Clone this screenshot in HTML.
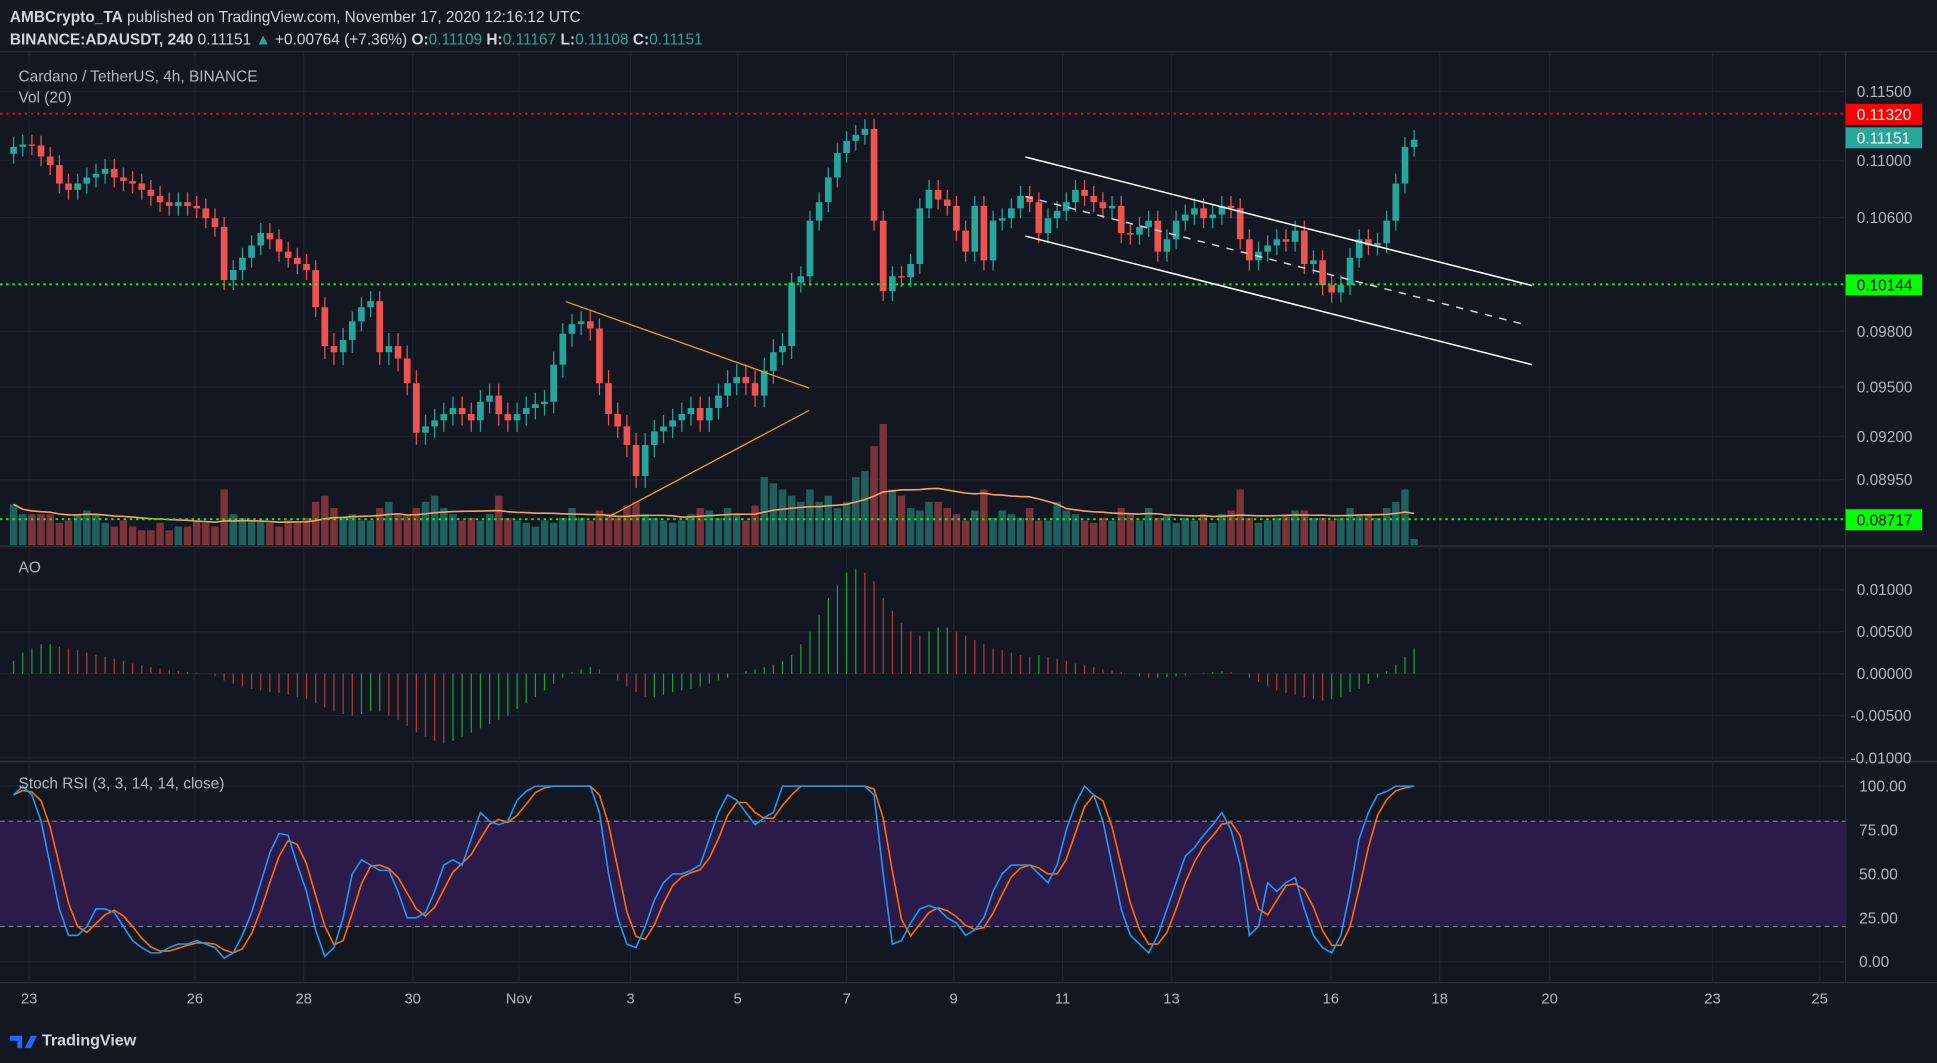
<!DOCTYPE html>
<html><head><meta charset="utf-8">
<style>
html,body{margin:0;padding:0;background:#131722;overflow:hidden}
svg{display:block}
text{font-family:"Liberation Sans",sans-serif}
</style></head>
<body>
<svg id="chart" width="1937" height="1063" viewBox="0 0 1568 860" preserveAspectRatio="none" xmlns="http://www.w3.org/2000/svg">
<rect x="0" y="0" width="1568" height="860" fill="#131722"/>
<g id="grid"></g>
<g id="vol"></g>
<g id="candles"></g>
<g id="ao"></g>
<g id="stoch"></g>
<g id="overlay"></g>
<text x="8" y="18" font-size="12.5" fill="#d1d4dc"><tspan font-weight="bold">AMBCrypto_TA</tspan> published on TradingView.com, November 17, 2020 12:16:12 UTC</text>
<text x="8" y="36" font-size="12.5" fill="#d1d4dc"><tspan font-weight="bold">BINANCE:ADAUSDT, 240</tspan> 0.11151 <tspan fill="#26a69a">▲</tspan> +0.00764 (+7.36%) <tspan font-weight="bold">O:</tspan><tspan fill="#26a69a">0.11109</tspan> <tspan font-weight="bold">H:</tspan><tspan fill="#26a69a">0.11167</tspan> <tspan font-weight="bold">L:</tspan><tspan fill="#26a69a">0.11108</tspan> <tspan font-weight="bold">C:</tspan><tspan fill="#26a69a">0.11151</tspan></text>
<text x="15" y="66" font-size="12.5" fill="#b2b5be">Cardano / TetherUS, 4h, BINANCE</text>
<text x="15" y="83" font-size="12.5" fill="#b2b5be">Vol (20)</text>
<text x="15" y="463" font-size="12.5" fill="#b2b5be">AO</text>
<text x="15" y="638" font-size="12.5" fill="#b2b5be">Stoch RSI (3, 3, 14, 14, close)</text>
<g>
<path d="M8 838 h10 v10 h-4 v-6 h-6z M20 848 l5 -10 h5 l-5 10z" fill="#2962ff"/>
<text x="34" y="846" font-size="13" fill="#d1d4dc" font-weight="bold">TradingView</text>
</g>
</svg>
<script>
const closes=[0.1110,0.11117,0.1111,0.1103,0.10969,0.10839,0.10795,0.10839,0.10882,0.10908,
0.10943,0.10882,0.10856,0.10839,0.10795,0.10752,0.10708,0.10682,0.10708,0.10682,
0.10665,0.10595,0.10534,0.1016,0.1023,0.10317,0.10404,0.10491,0.10447,0.1036,
0.10317,0.10273,0.1023,0.09969,0.0972,0.09687,0.09753,0.0987,0.09969,0.10012,
0.09687,0.0972,0.09653,0.0952,0.09222,0.0926,0.09297,0.09335,0.09372,0.09335,
0.09297,0.0941,0.09447,0.09335,0.09297,0.09335,0.09372,0.09395,0.0941,0.0962,
0.09787,0.0985,0.0987,0.0982,0.0952,0.09335,0.0926,0.0915,0.08971,0.0915,
0.0923,0.0926,0.09297,0.09335,0.09372,0.09297,0.09372,0.09447,0.0952,0.09553,
0.0952,0.09447,0.09587,0.09687,0.0972,0.10143,0.10187,0.10578,0.10708,0.10882,
0.11056,0.11143,0.11187,0.1123,0.10578,0.10082,0.10187,0.1018,0.10273,0.10665,
0.10795,0.10726,0.10682,0.10508,0.1036,0.10682,0.10299,0.10578,0.10595,0.10665,
0.10752,0.10708,0.10491,0.10595,0.10647,0.10708,0.10795,0.10752,0.10708,0.10665,
0.10682,0.10491,0.1048,0.10534,0.10578,0.1036,0.10447,0.10578,0.10621,0.10665,
0.10595,0.10621,0.10682,0.10665,0.10447,0.10299,0.1036,0.10404,0.10447,0.1043,
0.10508,0.10273,0.10299,0.10125,0.10073,0.10125,0.10317,0.10447,0.10404,0.10421,
0.10578,0.10839,0.1110,0.11151];
const volumes=[33,25,25,25,25,18,20,25,28,25,18,15,20,15,12,12,18,12,15,15,20,18,15,
45,25,22,20,20,18,15,20,18,22,35,40,30,22,25,20,20,30,35,25,25,30,35,40,30,25,20,22,20,25,40,
22,20,18,15,20,18,22,30,22,20,28,25,22,32,35,25,22,20,18,20,25,30,28,22,30,25,20,32,55,50,45,
40,35,45,35,40,30,35,55,60,80,98,45,40,30,28,35,35,30,25,20,28,45,22,28,25,22,30,20,20,35,28,
25,20,18,22,20,30,25,20,30,22,25,18,22,20,25,18,25,28,45,22,18,20,22,25,28,28,22,22,20,22,30,
25,25,22,30,35,45,5];
const aoValues=[1.5,2.5,3,3.5,3.5,3.2,3,2.8,2.5,2.2,2,1.8,1.5,1.2,1,0.8,0.6,0.4,0.3,0.2,
0.1,0,-0.3,-0.8,-1.2,-1.5,-1.8,-2,-2.2,-2.3,-2.5,-2.8,-3,-3.5,-4,-4.5,-4.8,-5,-4.8,-4.5,
-4.5,-5,-5.5,-6.2,-7,-7.5,-8,-8.3,-8,-7.5,-7,-6.5,-6,-5.5,-5,-4.2,-3.5,-2.8,-2,-1.2,
-0.5,0.2,0.5,0.8,0.5,0,-0.8,-1.5,-2.2,-2.8,-2.8,-2.5,-2.2,-2,-1.8,-1.5,-1.2,-0.8,-0.5,0,
0.3,0.5,0.8,1,1.5,2.2,3.5,5,7,9,10.5,12,12.5,12,11,9,7.5,6,5,4.5,
5,5.5,5.5,5,4.5,4,3.5,3,2.8,2.5,2.2,2,2.2,2,1.8,1.5,1.2,1,0.8,0.5,
0.4,0.2,0,-0.3,-0.5,-0.5,-0.4,-0.3,-0.2,0,0.1,0.2,0.3,0.2,0,-0.5,-1,-1.5,-2,-2.3,
-2.5,-2.8,-3,-3.2,-3,-2.8,-2.2,-1.8,-1.2,-0.5,0.3,1,2,3];
const stochK=[95,100,95,80,55,30,15,15,20,30,30,28,20,12,8,5,5,8,10,10,
12,10,8,2,5,15,28,45,62,73,72,55,40,18,3,8,25,50,58,55,
52,52,40,25,25,28,40,55,58,55,70,85,80,78,80,92,97,100,100,100,
100,100,100,100,85,50,25,10,8,20,35,45,50,50,52,55,70,85,95,92,
85,78,82,85,100,100,100,100,100,100,100,100,100,100,95,50,10,12,22,30,
32,30,25,22,15,18,25,40,50,55,55,55,50,45,55,75,90,100,95,80,
55,30,15,10,5,15,30,45,60,65,72,78,85,75,55,15,20,45,40,45,
48,30,15,8,5,15,40,70,85,95,97,100,100,100];
const priceTicks=[0.115,0.11,0.106,0.098,0.095,0.092,0.0895];
const priceTickLabels=["0.11500","0.11000","0.10600","0.09800","0.09500","0.09200","0.08950"];
const aoTicks=[10,5,0,-5,-10];
const aoTickLabels=["0.01000","0.00500","0.00000","-0.00500","-0.01000"];
const stochTicks=[100,75,50,25,0];
const stochTickLabels=["100.00","75.00","50.00","25.00","0.00"];
const dateLabels=["23","26","28","30","Nov","3","5","7","9","11","13","16","18","20","23","25"];
const dateIdx=[1.7,19.8,31.7,43.6,55.2,67.4,79.1,91,102.7,114.6,126.5,143.9,155.8,167.8,185.6,197.3];

const NS="http://www.w3.org/2000/svg";
function el(tag,attrs,parent){const e=document.createElementNS(NS,tag);for(const k in attrs)e.setAttribute(k,attrs[k]);parent.appendChild(e);return e;}
const X0=11,STEP=7.41;
function xAt(i){return X0+i*STEP;}
const pMap=[[0.115,74],[0.11,130],[0.106,176],[0.098,268],[0.095,313],[0.092,353],[0.0895,388],[0.08717,420]];
function yPrice(p){
  if(p>=pMap[0][0])return pMap[0][1]-(p-pMap[0][0])*11200;
  for(let k=0;k<pMap.length-1;k++){const a=pMap[k],b=pMap[k+1];
    if(p<=a[0]&&p>=b[0])return a[1]+(a[0]-p)/(a[0]-b[0])*(b[1]-a[1]);}
  return 420+(0.08717-p)*14000;
}
function yVol(v){return 441-v;}
function yAO(v){return 545-v*6.8;}
function yStoch(v){return 778-v*1.42;}

const grid=document.getElementById('grid');
const RIGHT=1494;
el('line',{x1:0,y1:442,x2:1568,y2:442,stroke:'#2a2e39','stroke-width':1.5},grid);
el('line',{x1:0,y1:616,x2:1568,y2:616,stroke:'#2a2e39','stroke-width':1.5},grid);
el('line',{x1:0,y1:795,x2:1568,y2:795,stroke:'#2a2e39','stroke-width':1},grid);
el('line',{x1:RIGHT,y1:42,x2:RIGHT,y2:795,stroke:'#2a2e39','stroke-width':1},grid);
el('line',{x1:0,y1:42,x2:1568,y2:42,stroke:'#2a2e39','stroke-width':1},grid);
dateLabels.forEach((d,k)=>{
  const x=xAt(dateIdx[k]);
  el('line',{x1:x,y1:42,x2:x,y2:795,stroke:'#1e222d','stroke-width':1},grid);
  const t=el('text',{x:x,y:812,'font-size':12,fill:'#b2b5be','text-anchor':'middle'},grid);
  t.textContent=d;
  
  
});
priceTicks.forEach((p,k)=>{
  const y=yPrice(p);
  el('line',{x1:0,y1:y,x2:RIGHT,y2:y,stroke:'#1e222d','stroke-width':1},grid);
  const t=el('text',{x:1503,y:y+4.5,'font-size':12.5,fill:'#b2b5be'},grid);
  t.textContent=priceTickLabels[k];
  
  
});
aoTicks.forEach((v,k)=>{
  const y=yAO(v);
  el('line',{x1:0,y1:y,x2:RIGHT,y2:y,stroke:'#1e222d','stroke-width':1},grid);
  const t=el('text',{x:v<0?1498:1503,y:y+4.5,'font-size':12.5,fill:'#b2b5be'},grid);
  t.textContent=aoTickLabels[k];
  
  
});
stochTicks.forEach((v,k)=>{
  const y=yStoch(v);
  el('line',{x1:0,y1:y,x2:RIGHT,y2:y,stroke:'#1e222d','stroke-width':1},grid);
  const t=el('text',{x:1505,y:y+4.5,'font-size':12.5,fill:'#b2b5be'},grid);
  t.textContent=stochTickLabels[k];
  
  
});

const vol=document.getElementById('vol');
closes.forEach((c,i)=>{
  const o=i===0?0.1105:closes[i-1];
  const up=c>=o;
  const y=yVol(volumes[i]);
  const r=el('rect',{x:xAt(i)-3,y:y,width:6,height:441-y,fill:up?'#1f5f5e':'#7b3238'},vol);
  
  
});
let maPts=[];
for(let i=0;i<volumes.length;i++){const s=volumes.slice(Math.max(0,i-19),i+1);const m=s.reduce((a,b)=>a+b,0)/s.length;maPts.push(xAt(i)+','+yVol(m));}
const ma=el('polyline',{points:maPts.join(' '),fill:'none',stroke:'#f7a35c','stroke-width':1.3},vol);



const cg=document.getElementById('candles');
closes.forEach((c,i)=>{
  const o=i===0?0.1105:closes[i-1];
  const up=c>=o;const col=up?'#26a69a':'#ef5350';
  const hi=Math.max(o,c)+0.0007,lo=Math.min(o,c)-0.0007;
  const x=xAt(i);
  el('line',{x1:x,y1:yPrice(hi),x2:x,y2:yPrice(lo),stroke:col,'stroke-width':1},cg);
  const yt=yPrice(Math.max(o,c)),yb=yPrice(Math.min(o,c));
  const r=el('rect',{x:x-2.7,y:yt,width:5.4,height:Math.max(1,yb-yt),fill:col},cg);
  
  
});

const ao=document.getElementById('ao');
aoValues.forEach((v,i)=>{
  const prev=i===0?v:aoValues[i-1];
  const y=yAO(v);
  const l=el('line',{x1:xAt(i),y1:Math.min(y,545),x2:xAt(i),y2:Math.max(y,545),stroke:v>=prev?'#1f9e3a':'#b23a3a','stroke-width':1},ao);
  
  
});

const st=document.getElementById('stoch');
el('rect',{x:0,y:yStoch(80),width:RIGHT,height:yStoch(20)-yStoch(80),fill:'#2a1b4a'},st);
el('line',{x1:0,y1:yStoch(80),x2:RIGHT,y2:yStoch(80),stroke:'#787b86','stroke-dasharray':'4 3'},st);
el('line',{x1:0,y1:yStoch(20),x2:RIGHT,y2:yStoch(20),stroke:'#787b86','stroke-dasharray':'4 3'},st);
const kPts=stochK.map((v,i)=>xAt(i)+','+yStoch(v));
const dPts=stochK.map((v,i)=>{const s=stochK.slice(Math.max(0,i-2),i+1);return xAt(i)+','+yStoch(s.reduce((a,b)=>a+b,0)/s.length);});
const dl=el('polyline',{points:dPts.join(' '),fill:'none',stroke:'#ff6d00','stroke-width':1.3},st);


const kl=el('polyline',{points:kPts.join(' '),fill:'none',stroke:'#2196f3','stroke-width':1.3},st);



const ov=document.getElementById('overlay');
el('line',{x1:0,y1:92,x2:RIGHT,y2:92,stroke:'#ff0000','stroke-width':1.5,'stroke-dasharray':'2 3'},ov);
el('line',{x1:0,y1:230,x2:RIGHT,y2:230,stroke:'#00ff00','stroke-width':1.5,'stroke-dasharray':'2 3'},ov);
el('line',{x1:0,y1:420,x2:RIGHT,y2:420,stroke:'#00ff00','stroke-width':1.5,'stroke-dasharray':'2 3'},ov);
el('line',{x1:830,y1:127,x2:1240,y2:231,stroke:'#ffffff','stroke-width':1.2},ov);
el('line',{x1:830,y1:191,x2:1240,y2:295,stroke:'#ffffff','stroke-width':1.2},ov);
el('line',{x1:830,y1:159,x2:1232,y2:262,stroke:'#d1d4dc','stroke-width':1.2,'stroke-dasharray':'6 6'},ov);
el('line',{x1:458,y1:244,x2:655,y2:314,stroke:'#f0a020','stroke-width':1},ov);
el('line',{x1:493,y1:418,x2:655,y2:332,stroke:'#f0a020','stroke-width':1},ov);
const labels=[[84,'#ff0000','0.11320','#ffffff'],[103,'#26a69a','0.11151','#ffffff'],[222,'#00ff00','0.10144','#000000'],[412,'#00ff00','0.08717','#000000']];
labels.forEach(l=>{
  const r=el('rect',{x:1494,y:l[0],width:62,height:17,fill:l[1]},ov);
  
  
  const t=el('text',{x:1503,y:l[0]+13,'font-size':12.5,fill:l[3]},ov);
  t.textContent=l[2];
});
</script>
</body></html>
